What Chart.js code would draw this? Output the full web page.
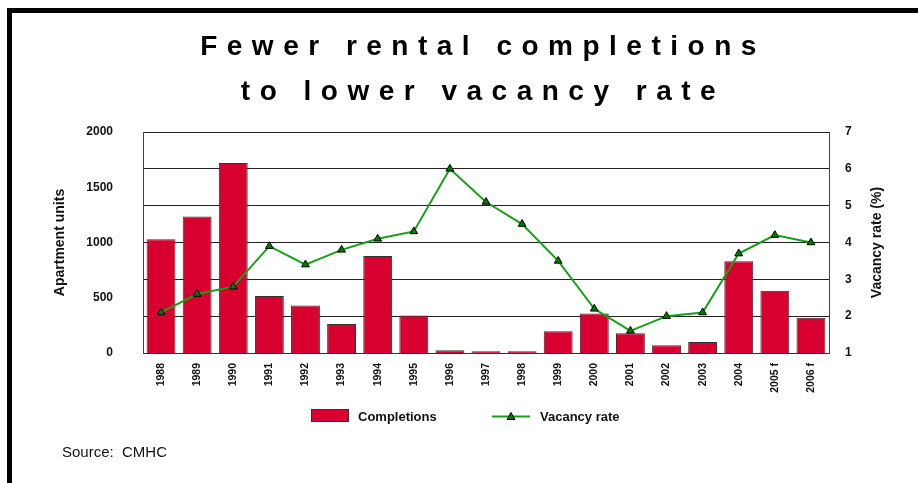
<!DOCTYPE html>
<html>
<head>
<meta charset="utf-8">
<script src="https://cdn.jsdelivr.net/npm/chart.js@4"></script>
<style>
  body { margin: 0; background: #fff; font-family: "Liberation Sans", Arial, sans-serif; }
  #wrap { position: relative; width: 918px; height: 483px; overflow: hidden; }
  #frame { position: absolute; left: 7px; top: 8px; right: -10px; bottom: -10px;
           border-top: 5px solid #000; border-left: 5px solid #000; }
  #title { position: absolute; left: 28px; width: 900px; top: 23px; padding-left: 10px; box-sizing: border-box;
           text-align: center; font-weight: bold; font-size: 28px; letter-spacing: 9.5px; line-height: 45px; color: #000; }
  .leg { position: absolute; font-weight: bold; font-size: 13px; color: #111; }
  #source { position: absolute; left: 62px; top: 443px; font-size: 15px; color: #111; }
  canvas { position: absolute; left: 0; top: 0; }
</style>
</head>
<body>
<div id="wrap">
  <div id="frame"></div>
  <canvas id="chart"></canvas>
  <div id="title">Fewer rental completions<br>to lower vacancy rate</div>
  <div class="leg" style="left:311px;top:409px;width:36px;height:11px;background:#d8002e;border:1px solid #333;"></div>
  <div class="leg" style="left:358px;top:409px;">Completions</div>
  <svg class="leg" style="left:492px;top:410px;" width="38" height="13">
    <line x1="0" y1="6.5" x2="38" y2="6.5" stroke="#16a016" stroke-width="2"/>
    <polygon points="19,2.5 23,9.5 15,9.5" fill="#007a00" stroke="#000" stroke-width="1"/>
  </svg>
  <div class="leg" style="left:540px;top:409px;">Vacancy rate</div>
  <div id="source">Source:&nbsp; CMHC</div>
</div>
<script>
const years = ["1988", "1989", "1990", "1991", "1992", "1993", "1994", "1995", "1996", "1997",
               "1998", "1999", "2000", "2001", "2002", "2003", "2004", "2005 f", "2006 f"];
const completions = [1030, 1235, 1720, 515, 430, 262, 878, 340, 24, 15,
                     15, 196, 358, 178, 70, 100, 830, 564, 318];
const vacancyRate = [2.1, 2.6, 2.8, 3.9, 3.4, 3.8, 4.1, 4.3, 6.0, 5.1,
                     4.5, 3.5, 2.2, 1.6, 2.0, 2.1, 3.7, 4.2, 4.0];
const unitTicks = [0, 500, 1000, 1500, 2000];
const rateTicks = [1, 2, 3, 4, 5, 6, 7];

const canvas = document.getElementById("chart");
canvas.width = 918;
canvas.height = 483;

// right axis title reads bottom to top, so it is drawn here
const rightTitle = {
  id: "rightTitle",
  afterDraw(chart) {
    const ctx = chart.ctx;
    const a = chart.chartArea;
    ctx.save();
    ctx.translate(877, (a.top + a.bottom) / 2);
    ctx.rotate(-Math.PI / 2);
    ctx.font = "bold 14px 'Liberation Sans', Arial, sans-serif";
    ctx.fillStyle = "#111";
    ctx.textAlign = "center";
    ctx.textBaseline = "middle";
    ctx.fillText("Vacancy rate (%)", 0, 0);
    ctx.restore();
  }
};

const tickFont = { family: "'Liberation Sans', Arial, sans-serif", size: 12, weight: "bold" };

new Chart(canvas.getContext("2d"), {
  data: {
    labels: years,
    datasets: [
      {
        type: "line",
        label: "Vacancy rate",
        data: vacancyRate,
        yAxisID: "y1",
        order: 0,
        borderColor: "#16a016",
        borderWidth: 2,
        tension: 0,
        pointStyle: "triangle",
        pointRadius: 4.5,
        pointBackgroundColor: "#007a00",
        pointBorderColor: "#000",
        pointBorderWidth: 1
      },
      {
        type: "bar",
        label: "Completions",
        data: completions,
        yAxisID: "y",
        order: 1,
        backgroundColor: "#d8002e",
        borderColor: "#333",
        borderWidth: 1,
        categoryPercentage: 1,
        barPercentage: 0.8
      }
    ]
  },
  options: {
    responsive: false,
    animation: false,
    layout: { padding: { left: 52, right: 0, top: 132, bottom: 80 } },
    plugins: {
      legend: { display: false },
      tooltip: { enabled: false }
    },
    scales: {
      x: {
        grid: { display: false },
        border: { display: true, color: "#333" },
        ticks: {
          font: { family: "'Liberation Sans', Arial, sans-serif", size: 10.5, weight: "bold" },
          color: "#111",
          maxRotation: 90,
          minRotation: 90,
          padding: 2,
          autoSkip: false
        },
        afterFit: s => { s.height = 50; }
      },
      y: {
        position: "left",
        min: 0,
        max: 2000,
        afterBuildTicks: s => { s.ticks = unitTicks.map(v => ({ value: v })); },
        grid: { display: false, drawTicks: false },
        border: { display: true, color: "#444" },
        ticks: { font: tickFont, color: "#111", padding: 30, callback: v => String(v) },
        title: {
          display: true,
          text: "Apartment units",
          font: { family: "'Liberation Sans', Arial, sans-serif", size: 14, weight: "bold" },
          color: "#111",
          padding: 0
        },
        afterFit: s => { s.width = 91; }
      },
      y1: {
        position: "right",
        min: 1,
        max: 7,
        afterBuildTicks: s => { s.ticks = rateTicks.map(v => ({ value: v })); },
        grid: { display: true, drawTicks: false, color: "#222", lineWidth: 1 },
        border: { display: true, color: "#444" },
        ticks: { font: tickFont, color: "#111", padding: 16, callback: v => String(v) },
        afterFit: s => { s.width = 89; }
      }
    }
  },
  plugins: [rightTitle]
});
</script>
</body>
</html>
